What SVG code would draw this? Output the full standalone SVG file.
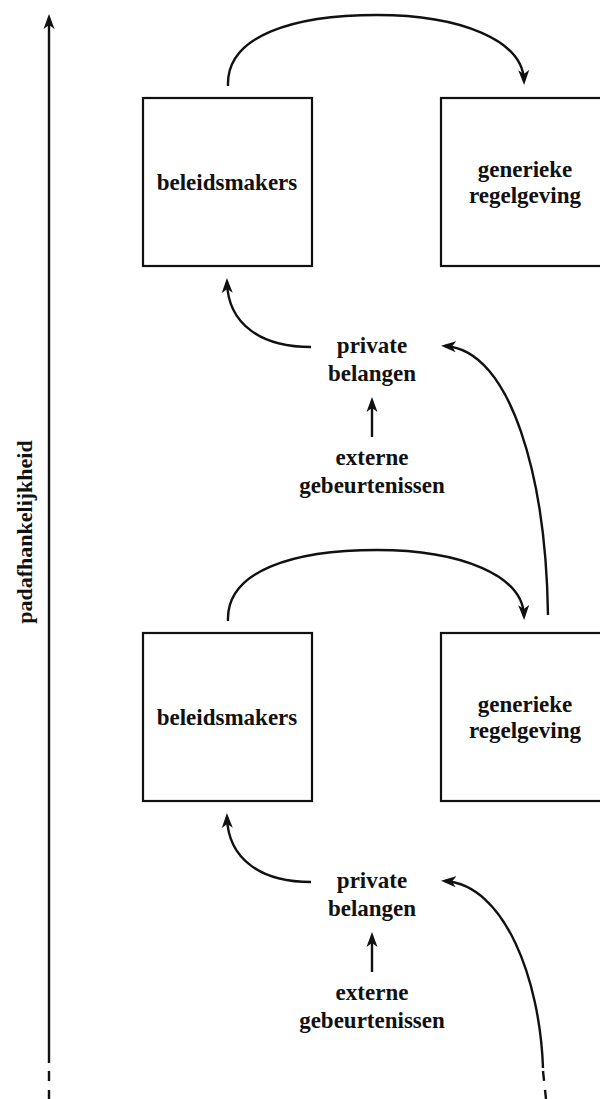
<svg xmlns="http://www.w3.org/2000/svg" width="600" height="1099" viewBox="0 0 600 1099">
<style>
.box{fill:#fff;stroke:#111;stroke-width:2.2}
.ln{fill:none;stroke:#111;stroke-width:2.4}
.dash{fill:none;stroke:#111;stroke-width:2.4;stroke-dasharray:10 9}
.t{font-family:"Liberation Serif","Times New Roman",serif;font-weight:bold;font-size:23px;fill:#111;text-anchor:middle}
</style>
<defs>
<marker id="ah" markerUnits="userSpaceOnUse" markerWidth="16" markerHeight="12" viewBox="0 0 16 12" refX="11" refY="6" orient="auto">
<path d="M0,0.5 L15,6 L0,11.5 L4,6 Z" fill="#111"/>
</marker>
</defs>
<rect width="600" height="1099" fill="#fff"/>
<g id="axis">
<path class="ln" d="M49,1063 L49,18" marker-end="url(#ah)"/>
<path class="dash" d="M49,1071 L49,1099"/>
<text class="t" font-size="22" style="font-size:22px" transform="translate(32,532) rotate(-90)">padafhankelijkheid</text>
</g>
<g id="connectors">
<path class="ln" d="M228,86 C226,35 295,15 377,15 C460,15 523,40 524,81" marker-end="url(#ah)"/>
<path class="ln" d="M311,347 C262,347 228,325 227,282" marker-end="url(#ah)"/>
<path class="ln" d="M372,437 L372,401" marker-end="url(#ah)"/>
<path class="ln" d="M548,615 C546,480 512,350 445,346" marker-end="url(#ah)"/>
<path class="ln" d="M228,621 C226,570 295,550 377,550 C460,550 523,575 524,616" marker-end="url(#ah)"/>
<path class="ln" d="M311,882 C262,882 228,860 227,817" marker-end="url(#ah)"/>
<path class="ln" d="M372,972 L372,936" marker-end="url(#ah)"/>
<path class="ln" d="M543,1068 C540,980 505,885 445,881" marker-end="url(#ah)"/>
<path class="dash" d="M543,1071 L546,1099"/>
</g>
<g id="beleidsmakers1">
<rect class="box" x="143" y="98" width="169" height="168"/>
<text class="t" x="227" y="190">beleidsmakers</text>
</g>
<g id="regelgeving1">
<rect class="box" x="441" y="98" width="170" height="168"/>
<text class="t" x="525" y="177">generieke</text>
<text class="t" x="525" y="203">regelgeving</text>
</g>
<g id="belangen1">
<text class="t" x="372" y="353">private</text>
<text class="t" x="372" y="381">belangen</text>
</g>
<g id="gebeurtenissen1">
<text class="t" x="372" y="465">externe</text>
<text class="t" x="372" y="493">gebeurtenissen</text>
</g>
<g id="beleidsmakers2">
<rect class="box" x="143" y="633" width="169" height="168"/>
<text class="t" x="227" y="725">beleidsmakers</text>
</g>
<g id="regelgeving2">
<rect class="box" x="441" y="633" width="170" height="168"/>
<text class="t" x="525" y="712">generieke</text>
<text class="t" x="525" y="738">regelgeving</text>
</g>
<g id="belangen2">
<text class="t" x="372" y="888">private</text>
<text class="t" x="372" y="916">belangen</text>
</g>
<g id="gebeurtenissen2">
<text class="t" x="372" y="1000">externe</text>
<text class="t" x="372" y="1028">gebeurtenissen</text>
</g>
</svg>
